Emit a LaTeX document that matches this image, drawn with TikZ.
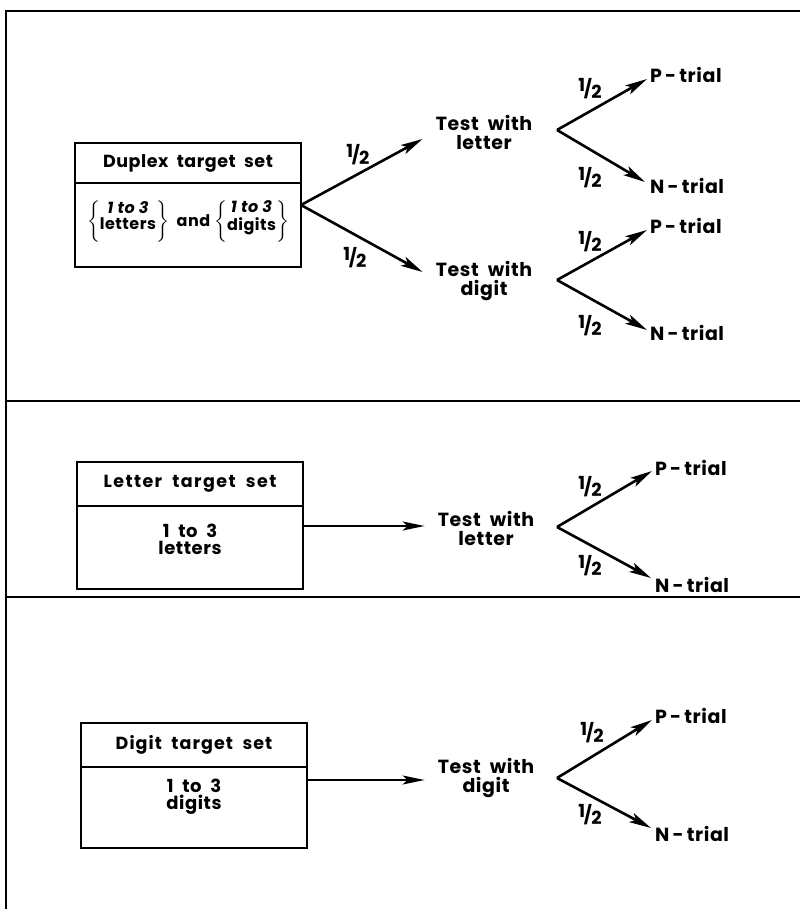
\documentclass[tikz,border=0pt]{standalone}
\usepackage{amsmath}
\usepackage{fontspec}
\setmainfont{Poppins}[LetterSpace=3]
\usetikzlibrary{arrows.meta,calc}
\newcommand{\hlf}{{\fontsize{18}{18}\selectfont\bfseries\raisebox{0.4ex}{1}\kern-0.08em/\kern-0.04em\raisebox{-0.3ex}{2}}}
\newcommand{\brc}[1]{$\left\{\vcenter{\hbox{\rule[-21pt]{0pt}{42pt}\begin{tabular}{@{}c@{}}#1\end{tabular}}}\right\}$}
\begin{document}
\begin{tikzpicture}[x=1pt,y=-1pt,
  txt/.style={font=\fontsize{19}{19}\selectfont\bfseries, inner sep=0pt, align=center},
  hdr/.style={draw, line width=2pt, outer sep=0pt, inner sep=0pt, font=\fontsize{17.5}{17}\selectfont\bfseries},
  bdy/.style={draw, line width=2pt, outer sep=0pt, inner sep=0pt},
  btxt/.style={inner sep=0pt, font=\fontsize{18}{17}\selectfont\bfseries, align=center},
  arr/.style={line width=2.6pt, -{Stealth[length=22pt,width=10pt,inset=5pt]}},
  harr/.style={line width=2pt, -{Stealth[length=22pt,width=9pt,inset=5pt]}},
  hl/.style={inner sep=0pt},
  frame/.style={line width=1.4pt}]
\useasboundingbox (0,0) rectangle (800,909);
% frame
\draw[frame] (6,909) -- (6,11) -- (800,11);
\draw[frame] (6,401) -- (800,401);
\draw[frame] (6,597) -- (800,597);

% ---------- section 1 ----------
\node[hdr, minimum width=226pt, minimum height=40pt, anchor=north west] (dh) at (75,143) {Duplex\ \ target\ \ set};
\node[bdy, minimum width=226pt, minimum height=84pt, anchor=north] (db) at (dh.south) {};
\node[btxt, font=\fontsize{16}{15}\selectfont\bfseries] (dbt) at ($(db.center)+(0,-3)$) {\brc{\itshape 1 to 3\\letters}\ \ and\ \brc{\itshape 1 to 3\\digits}};
\coordinate (o1) at (db.east |- 0,205);
\node[txt] (t1) at (484,132) {Test\ \ with\\letter};
\node[txt] (t2) at (484,281) {Test\ \ with\\digit};
\draw[arr] (o1) -- ($(t1.west)+(-13,7)$);
\draw[arr] (o1) -- ($(t2.west)+(-13,-9)$);
\node[hl] at (358,155) {\hlf};
\node[hl] at (355,258) {\hlf};

\coordinate (f1) at (557,130);
\coordinate (f2) at (557,280);
\node[txt, anchor=west] (p1) at (650,75) {P\,-\,trial};
\node[txt, anchor=west] (n1) at (650,186) {N\,-\,trial};
\node[txt, anchor=west] (p2) at (650,226) {P\,-\,trial};
\node[txt, anchor=west] (n2) at (650,333) {N\,-\,trial};
\draw[arr] (f1) -- ($(p1.west)+(-3,4)$);
\draw[arr] (f1) -- ($(n1.west)+(-5,-4)$);
\draw[arr] (f2) -- ($(p2.west)+(-3,4)$);
\draw[arr] (f2) -- ($(n2.west)+(-3,-3)$);
\node[hl] at (590,89) {\hlf};
\node[hl] at (590,178) {\hlf};
\node[hl] at (590,242) {\hlf};
\node[hl] at (590,326) {\hlf};

% ---------- section 2 ----------
\node[hdr, minimum width=226pt, minimum height=44pt, anchor=north west] (lh) at (77,462) {\addfontfeatures{LetterSpace=8}Letter\ \ target\ \ set};
\node[bdy, minimum width=226pt, minimum height=83pt, anchor=north] (lb) at (lh.south) {};
\node[btxt] (lbt) at ($(lb.north)+(0,33)$) {1\ \ to\ \ 3\\letters};
\node[txt] (t3) at (486,528) {Test\ \ with\\letter};
\draw[harr] (lb.east |- 0,526) -- ($(t3.west)+(-13,-2)$);
\coordinate (f3) at (557,527);
\node[txt, anchor=west] (p3) at (655,468) {P\,-\,trial};
\node[txt, anchor=west] (n3) at (655,585) {N\,-\,trial};
\draw[arr] (f3) -- ($(p3.west)+(-3,3)$);
\draw[arr] (f3) -- ($(n3.west)+(-4,-7)$);
\node[hl] at (590,487) {\hlf};
\node[hl] at (590,566) {\hlf};

% ---------- section 3 ----------
\node[hdr, minimum width=226pt, minimum height=44pt, anchor=north west] (gh) at (81,723) {\addfontfeatures{LetterSpace=6}Digit\ \ target\ \ set};
\node[bdy, minimum width=226pt, minimum height=81pt, anchor=north] (gb) at (gh.south) {};
\node[btxt] (gbt) at ($(gb.north)+(0,30)$) {1\ \ to\ \ 3\\digits};
\node[txt] (t4) at (486,778) {Test\ \ with\\digit};
\draw[harr] (gb.east |- 0,780) -- ($(t4.west)+(-13,2)$);
\coordinate (f4) at (557,778);
\node[txt, anchor=west] (p4) at (655,716) {P\,-\,trial};
\node[txt, anchor=west] (n4) at (655,834) {N\,-\,trial};
\draw[arr] (f4) -- ($(p4.west)+(-3,4)$);
\draw[arr] (f4) -- ($(n4.west)+(-4,-6)$);
\node[hl] at (592,733) {\hlf};
\node[hl] at (590,815) {\hlf};
\end{tikzpicture}
\end{document}
